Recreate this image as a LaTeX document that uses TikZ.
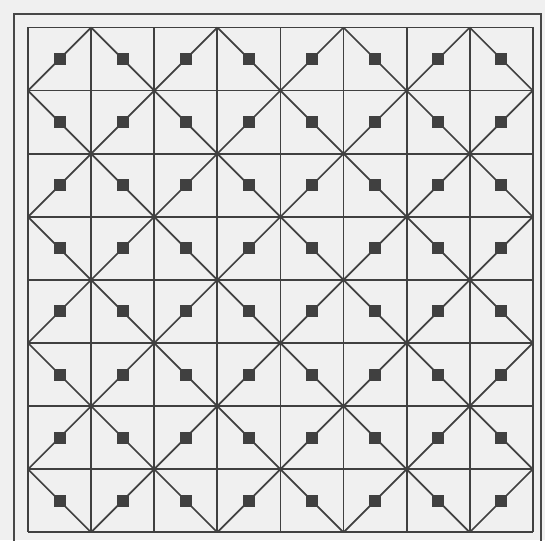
\documentclass[tikz,border=0pt]{standalone}
\begin{document}
\begin{tikzpicture}[x=1pt,y=-1pt,
  gridline/.style={draw=black!75,line width=1.8pt},
  diagline/.style={draw=black!75,line width=1.7pt},
  frameline/.style={draw=black!72,line width=2.2pt},
  dot/.style={fill=black!75}]
\useasboundingbox (0,0) rectangle (545,540);
\fill[white!94!black] (0,0) rectangle (545,540);
% outer frame
\draw[frameline] (14,545) -- (14,14) -- (541,14) -- (541,545);
% grid
\def\gx{28}\def\gy{27.5}\def\cs{63.1}
\foreach \i in {0,...,8}{
  \draw[gridline] ({\gx+\i*\cs},\gy) -- ({\gx+\i*\cs},{\gy+8*\cs});
  \draw[gridline] (\gx,{\gy+\i*\cs}) -- ({\gx+8*\cs},{\gy+\i*\cs});
}
% diagonals and squares
\foreach \i in {0,...,7}{
  \foreach \j in {0,...,7}{
    \pgfmathtruncatemacro{\pty}{mod(\i+\j,2)}
    \ifnum\pty=0
      \draw[diagline] ({\gx+(\i+1)*\cs},{\gy+\j*\cs}) -- ({\gx+\i*\cs},{\gy+(\j+1)*\cs});
    \else
      \draw[diagline] ({\gx+\i*\cs},{\gy+\j*\cs}) -- ({\gx+(\i+1)*\cs},{\gy+(\j+1)*\cs});
    \fi
    \fill[dot] ({\gx+(\i+0.5)*\cs-6},{\gy+(\j+0.5)*\cs-6}) rectangle ++(12,12);
  }
}
\end{tikzpicture}
\end{document}
